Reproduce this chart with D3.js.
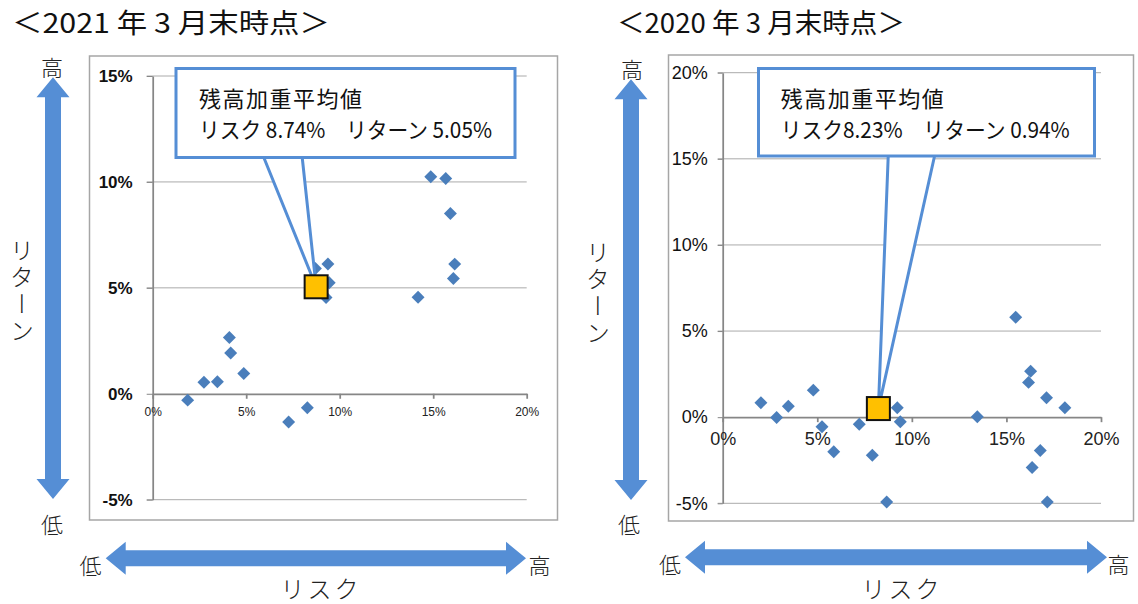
<!DOCTYPE html>
<meta charset="utf-8">
<style>
    body { margin: 0; background: #fff; }
    svg text { font-family: "Noto Sans CJK JP", sans-serif; }
    .grid line { stroke: #aaaaaa; stroke-width: 1; }
    .axis path, .axis line { stroke: #868686; stroke-width: 1.75; }
    .xaxis text { font-family: "Liberation Sans Narrow", "Liberation Sans", sans-serif; fill: #222; }
    .note { font-weight: 300; fill: #222; }
</style>
<svg width="1138" height="604"></svg>
<script src="https://d3js.org/d3.v7.min.js"></script>
<script>

    // values (percent)
    var risk2021 = [1.87, 2.74, 3.46, 4.10, 4.17, 4.87, 7.27, 8.27, 8.70, 9.37, 9.44, 9.27,
        14.19, 14.87, 15.67, 15.92, 16.15, 16.08];
    var ret2021 = [-0.30, 0.54, 0.57, 2.66, 1.92, 0.96, -1.33, -0.66, 5.91, 6.13, 5.24, 4.54,
        4.56, 10.24, 10.16, 8.51, 6.12, 5.44];
    var risk2020 = [2.02, 2.85, 3.47, 4.79, 5.25, 5.87, 7.22, 7.91, 8.67, 9.23, 9.39, 13.46,
        15.49, 16.28, 16.17, 16.36, 16.79, 17.12, 17.16, 18.09];
    var ret2020 = [0.84, -0.02, 0.64, 1.57, -0.56, -2.01, -0.41, -2.21, -4.92, 0.55, -0.27, 0.02,
        5.80, 2.67, 2.02, -2.92, -1.94, 1.13, -4.92, 0.55];
    var avg2021 = [8.74, 5.05];
    var avg2020 = [8.23, 0.50];

    var xTicks = [0, 5, 10, 15, 20];
    var yTicks2021 = [-5, 0, 5, 10, 15];
    var yTicks2020 = [-5, 0, 5, 10, 15, 20];
    var titles = ["＜2021 年 3 月末時点＞", "＜2020 年 3 月末時点＞"];
    var calloutTitle = "残高加重平均値";
    var calloutText = ["リスク 8.74%　リターン 5.05%", "リスク8.23%　リターン 0.94%"];

    var svg = d3.select("svg");
    var blue = "#558ed5";

    var charts = [
        {
            risk: risk2021, ret: ret2021, avg: avg2021, yTicks: yTicks2021,
            title: titles[0], titleX: 12, titleW: 318, text: calloutText[0],
            frame: [89.5, 56, 468, 464], xr: [152.7, 526.7], yr: [499.7, 76], yMax: 15,
            yBold: true, yTick: 6, yPad: 14, xPad: 9, xFont: 12, yFont: 17,
            box: [176, 68.5, 339, 89], textX: 199, textW: 293, wedge: [263, 302],
            vArrow: [53, 77.3, 499], hArrow: [105.7, 526, 558.3],
            vHigh: [52, 76], vLow: [52, 533], hLow: [90.5, 574], hHigh: [539.5, 574],
            riskLbl: [321, 598], retLbl: [22, 238]
        },
        {
            risk: risk2020, ret: ret2020, avg: avg2020, yTicks: yTicks2020,
            title: titles[1], titleX: 617, titleW: 288, text: calloutText[1],
            frame: [668.5, 55, 465, 466], xr: [722.7, 1101], yr: [503.3, 72.7], yMax: 20,
            yBold: false, yTick: 5, yPad: 10, xPad: 10, xFont: 18, yFont: 18,
            box: [758.5, 68.5, 336, 87.5], textX: 780.7, textW: 289, wedge: [888.3, 935],
            vArrow: [631, 79.3, 500], hArrow: [685, 1107, 557.3],
            vHigh: [632, 78], vLow: [629, 533], hLow: [670, 573], hHigh: [1118.5, 573],
            riskLbl: [902, 598], retLbl: [598, 240]
        }
    ];

    function vArrowPath(cx, y1, y2) {
        var p = d3.path(), sw = 8, hw = 16.5, hl = 20;
        p.moveTo(cx, y1);
        p.lineTo(cx + hw, y1 + hl); p.lineTo(cx + sw, y1 + hl);
        p.lineTo(cx + sw, y2 - hl); p.lineTo(cx + hw, y2 - hl);
        p.lineTo(cx, y2);
        p.lineTo(cx - hw, y2 - hl); p.lineTo(cx - sw, y2 - hl);
        p.lineTo(cx - sw, y1 + hl); p.lineTo(cx - hw, y1 + hl);
        p.closePath();
        return p.toString();
    }

    function hArrowPath(x1, x2, cy) {
        var p = d3.path(), sw = 8, hw = 16.5, hl = 20;
        p.moveTo(x1, cy);
        p.lineTo(x1 + hl, cy - hw); p.lineTo(x1 + hl, cy - sw);
        p.lineTo(x2 - hl, cy - sw); p.lineTo(x2 - hl, cy - hw);
        p.lineTo(x2, cy);
        p.lineTo(x2 - hl, cy + hw); p.lineTo(x2 - hl, cy + sw);
        p.lineTo(x1 + hl, cy + sw); p.lineTo(x1 + hl, cy + hw);
        p.closePath();
        return p.toString();
    }

    var diamond = d3.symbol().type(d3.symbolSquare).size(84);

    charts.forEach(function (c) {
        var g = svg.append("g");

        // title
        g.append("text")
            .attr("x", c.titleX).attr("y", 33)
            .attr("textLength", c.titleW).attr("lengthAdjust", "spacingAndGlyphs")
            .style("font-size", "27px").style("fill", "#111")
            .text(c.title);

        // chart frame
        g.append("rect")
            .attr("x", c.frame[0]).attr("y", c.frame[1])
            .attr("width", c.frame[2]).attr("height", c.frame[3])
            .attr("fill", "#fff").attr("stroke", "#a6a6a6").attr("stroke-width", 1.5);

        var x = d3.scaleLinear().domain([0, 20]).range(c.xr);
        var y = d3.scaleLinear().domain([-5, c.yMax]).range(c.yr);

        // gridlines
        g.append("g").attr("class", "grid")
            .selectAll("line").data(c.yTicks.filter(function (d) { return d !== 0; }))
            .enter().append("line")
            .attr("x1", c.xr[0] - c.yTick).attr("x2", c.xr[1])
            .attr("y1", function (d) { return y(d); })
            .attr("y2", function (d) { return y(d); });

        // y axis
        var ya = g.append("g").attr("class", "axis")
            .attr("transform", "translate(" + c.xr[0] + ",0)")
            .call(d3.axisLeft(y).tickValues(c.yTicks).tickSizeInner(c.yTick).tickSizeOuter(0)
                .tickPadding(c.yPad).tickFormat(function (d) { return d + "%"; }));
        ya.selectAll(".tick line").attr("stroke", "#a6a6a6").style("stroke-width", 1);
        ya.selectAll("text")
            .style("font-family", c.yBold ? "'Liberation Sans', sans-serif"
                : "'Liberation Sans Narrow', 'Liberation Sans', sans-serif")
            .style("font-weight", c.yBold ? "bold" : "normal")
            .style("font-size", c.yFont + "px").style("fill", "#111");

        // x axis on the zero line
        var xa = g.append("g").attr("class", "axis xaxis")
            .attr("transform", "translate(0," + y(0) + ")")
            .call(d3.axisBottom(x).tickValues(xTicks).tickSizeInner(5).tickSizeOuter(0)
                .tickPadding(c.xPad).tickFormat(function (d) { return d + "%"; }));
        xa.selectAll("text").style("font-size", c.xFont + "px");

        // points
        g.append("g").selectAll("path")
            .data(c.risk.map(function (r, i) { return [r, c.ret[i]]; }))
            .enter().append("path")
            .attr("d", diamond)
            .attr("transform", function (d) {
                return "translate(" + x(d[0]) + "," + y(d[1]) + ") rotate(45)";
            })
            .attr("fill", "#4a7ebb");

        // callout
        var tipX = x(c.avg[0]), tipY = y(c.avg[1]);
        var bottom = c.box[1] + c.box[3];
        g.append("path")
            .attr("d", "M" + c.wedge[0] + "," + (bottom - 2) + "L" + tipX + "," + tipY +
                "L" + c.wedge[1] + "," + (bottom - 2))
            .attr("fill", "#fff").attr("stroke", blue).attr("stroke-width", 3)
            .attr("stroke-linejoin", "round");
        g.append("rect")
            .attr("x", c.box[0]).attr("y", c.box[1])
            .attr("width", c.box[2]).attr("height", c.box[3])
            .attr("fill", "#fff").attr("stroke", blue).attr("stroke-width", 3);
        g.append("text")
            .attr("x", c.textX).attr("y", c.box[1] + 38)
            .style("font-size", "22px").style("letter-spacing", "1.5px").style("fill", "#111")
            .text(calloutTitle);
        g.append("text")
            .attr("x", c.textX).attr("y", c.box[1] + 69)
            .attr("textLength", c.textW).attr("lengthAdjust", "spacingAndGlyphs")
            .style("font-size", "22px").style("fill", "#111")
            .text(c.text);

        // weighted average marker
        g.append("rect")
            .attr("x", tipX - 11.5).attr("y", tipY - 11.5)
            .attr("width", 23).attr("height", 23)
            .attr("fill", "#ffc000").attr("stroke", "#111").attr("stroke-width", 2);

        // direction arrows
        g.append("path").attr("d", vArrowPath(c.vArrow[0], c.vArrow[1], c.vArrow[2])).attr("fill", blue);
        g.append("path").attr("d", hArrowPath(c.hArrow[0], c.hArrow[1], c.hArrow[2])).attr("fill", blue);

        var notes = [["高", c.vHigh], ["低", c.vLow], ["低", c.hLow], ["高", c.hHigh], ["リスク", c.riskLbl]];
        notes.forEach(function (n) {
            g.append("text").attr("class", "note")
                .attr("x", n[1][0]).attr("y", n[1][1])
                .attr("text-anchor", "middle")
                .style("font-size", n[0].length > 1 ? "24px" : "22px")
                .style("letter-spacing", n[0].length > 1 ? "3px" : "0")
                .text(n[0]);
        });
        g.append("text").attr("class", "note")
            .attr("x", c.retLbl[0]).attr("y", c.retLbl[1])
            .style("writing-mode", "vertical-rl")
            .style("font-size", "24px").style("letter-spacing", "3px")
            .text("リターン");
    });
</script>
